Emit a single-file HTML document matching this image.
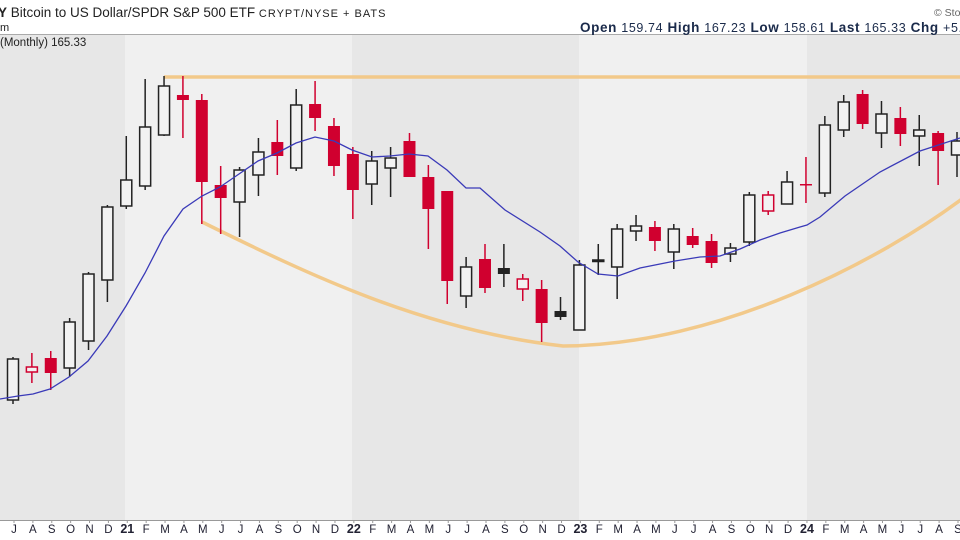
<!DOCTYPE html>
<html><head><meta charset="utf-8"><style>
html,body{margin:0;padding:0;background:#fff;width:960px;height:540px;overflow:hidden;font-family:"Liberation Sans",sans-serif}
svg{position:absolute;left:0;top:0}
</style></head><body>
<svg id="s" width="960" height="540" xmlns="http://www.w3.org/2000/svg">
<rect x="0" y="35" width="960" height="485" fill="#e7e7e7"/>
<rect x="125" y="35" width="227" height="485" fill="#f0f0f0"/>
<rect x="579" y="35" width="228" height="485" fill="#f0f0f0"/>
<line x1="0" y1="34.5" x2="960" y2="34.5" stroke="#aaa" stroke-width="1"/>
<line x1="0" y1="520.5" x2="960" y2="520.5" stroke="#999" stroke-width="1"/>
<text x="-2" y="17" font-size="13.5" fill="#222"><tspan font-weight="bold">Y</tspan> Bitcoin to US Dollar/SPDR S&amp;P 500 ETF <tspan font-size="11" letter-spacing="1">CRYPT/NYSE + BATS</tspan></text>
<text x="0" y="31" font-size="11" fill="#222">m</text>
<text x="0" y="46" font-size="11.5" fill="#222">(Monthly) 165.33</text>
<text x="934" y="16" font-size="10.5" fill="#666">© Sto</text>
<text x="580" y="32" font-size="13.5" fill="#1a2a4a" textLength="382" lengthAdjust="spacing"><tspan font-weight="bold">Open</tspan> <tspan font-size="12.5">159.74</tspan>  <tspan font-weight="bold">High</tspan> <tspan font-size="12.5">167.23</tspan>  <tspan font-weight="bold">Low</tspan> <tspan font-size="12.5">158.61</tspan>  <tspan font-weight="bold">Last</tspan> <tspan font-size="12.5">165.33</tspan>  <tspan font-weight="bold">Chg</tspan> <tspan font-size="12.5">+5.</tspan></text>
<line x1="164" y1="77" x2="960" y2="77" stroke="#f2c98a" stroke-width="3.5"/>
<path d="M202,222 C300,270 420,330 563,346 C720,345 880,260 962,199" fill="none" stroke="#f2c98a" stroke-width="3.5"/>
<g id="c"></g>
<polyline fill="none" stroke="#3a3ab8" stroke-width="1.3" points="0,399 18,396 33,394 50,389 69,377 88,361 107,336 126,306 145,273 164,236 183,209 202,196 220,187 239,174 258,161 277,153 296,143 315,137 334,141 352,150 372,157 390,156 409,154 428,156 447,170 466,188 480,188 505,210 540,232 560,246 578,262 598,274 618,276 640,268 660,264 675,261 700,257 720,256 740,249 760,240 780,233 800,227 807,225 820,217 845,196 880,172 920,151 960,138"/>
<g id="ax" font-size="11.5" fill="#223" text-anchor="middle"></g>
</svg>
<script>
var d=[["h",359,400,357,404],["rh",367,372,353,383],["r",358,373,351,390],["h",322,368,318,377],["h",274,341,272,350],["h",207,280,205,302],["h",180,206,136,209],["h",127,186,79,190],["h",86,135,76,136],["r",95,100,76,138],["r",100,182,94,224],["r",185,198,166,234],["h",170,202,167,237],["h",152,175,138,196],["r",142,156,120,175],["h",105,168,89,171],["r",104,118,81,131],["r",126,166,118,176],["r",154,190,147,219],["h",161,184,151,205],["h",158,168,147,197],["r",141,177,133,177],["r",177,209,165,249],["r",191,281,191,304],["h",267,296,257,308],["r",259,288,244,293],["b",268,274,244,287],["rh",279,289,274,301],["r",289,323,280,342],["b",311,317,297,320],["h",265,330,260,330],["h",260,261,244,275],["h",229,267,224,299],["h",226,231,215,241],["r",227,241,221,251],["h",229,252,224,269],["r",236,245,228,248],["r",241,263,234,268],["h",248,254,243,262],["h",195,242,192,246],["rh",195,211,191,215],["h",182,204,171,204],["r",184,185,157,203],["h",125,193,116,197],["h",102,130,95,137],["r",94,124,90,129],["h",114,133,101,148],["r",118,134,107,146],["h",130,136,115,166],["r",133,151,131,185],["h",141,155,132,177]];
var g=document.getElementById("c"),s="";
d.forEach(function(c,i){var x=13+i*18.88,red="#d0002f",col=(c[0]=="r"||c[0]=="rh")?red:"#222";
s+='<line x1="'+x+'" y1="'+c[3]+'" x2="'+x+'" y2="'+c[4]+'" stroke="'+col+'" stroke-width="1.5"/>';
var h=Math.max(c[2]-c[1],1.5);
if(c[0]=="r"||c[0]=="b")s+='<rect x="'+(x-6)+'" y="'+c[1]+'" width="12" height="'+h+'" fill="'+col+'"/>';
else s+='<rect x="'+(x-5.5)+'" y="'+c[1]+'" width="11" height="'+h+'" fill="#f2f2f2" stroke="'+col+'" stroke-width="1.5"/>';});
g.innerHTML=s;
var L="J A S O N D 21 F M A M J J A S O N D 22 F M A M J J A S O N D 23 F M A M J J A S O N D 24 F M A M J J A S".split(" "),a="";
L.forEach(function(t,i){var x=14+i*18.88;a+='<line x1="'+x+'" y1="520" x2="'+x+'" y2="523" stroke="#999"/>';
a+='<text x="'+x+'" y="533"'+(t.length>1?' font-weight="bold" font-size="12.5"':'')+'>'+t+'</text>';});
document.getElementById("ax").innerHTML=a;
</script>
</body></html>
